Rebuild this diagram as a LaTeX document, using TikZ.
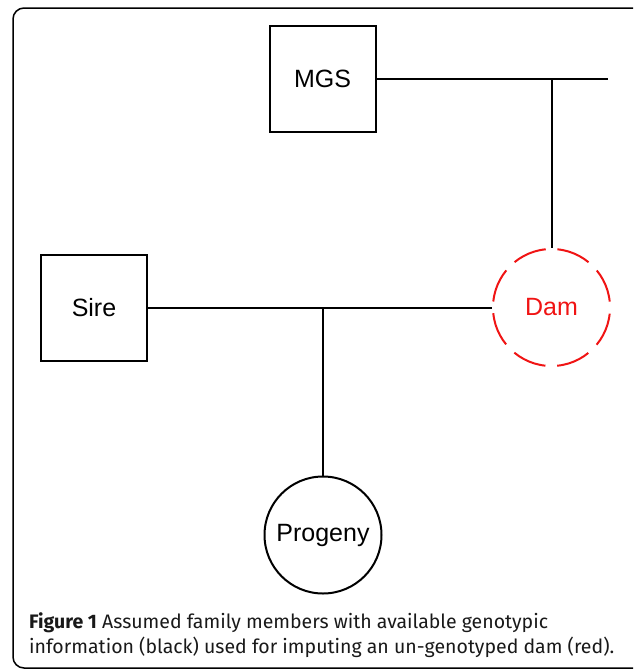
\documentclass[tikz,border=0pt]{standalone}
\usepackage{fontspec}
\usepackage{tikz}
\usetikzlibrary{shapes.geometric, positioning}
\newfontfamily\labfont{Liberation Sans}
\newfontfamily\capfont{Fira Sans}
\definecolor{damred}{RGB}{240,20,20}
\tikzstyle{male} = [rectangle,
minimum size=106pt,
inner sep=0pt,
draw=black,
line width=2pt,
font=\labfont\fontsize{25}{30}\selectfont]
\tikzstyle{female} = [circle,
minimum size=117pt,
inner sep=0pt,
draw=black,
line width=2pt,
font=\labfont\fontsize{25}{30}\selectfont]
\tikzstyle{missing} = [female, draw=damred, text=damred,
dash pattern=on 34.2pt off 11.7pt, dash phase=40.05pt]
\tikzstyle{link} = [line width=2pt]

\begin{document}
\begin{tikzpicture}[x=1pt,y=-1pt]
        \useasboundingbox (0,0) rectangle (633,670);
        \clip (0,0) rectangle (633,670);
        \draw [line width=1.5pt, rounded corners=11pt] (13,8) rectangle (645,668);
        \node (mgs) [male] at (322.5,79) {MGS};
        \node (sire) [male] at (94,307.5) {Sire};
        \node (dam) [missing] at (551.5,307.5) {Dam};
        \node (prog) [female] at (323,535) {Progeny};
        \coordinate (mgsend) at (608,79);
        \coordinate (mgsdrop) at (dam.north |- mgs.east);
        \coordinate (sirdrop) at (prog.north |- sire.east);
        \draw [link] (mgs.east) -- (mgsend);
        \draw [link] (mgsdrop) -- (dam.north);
        \draw [link] (sire.east) -- (dam.west);
        \draw [link] (sirdrop) -- (prog.north);
        \node (cap) [anchor=north west, align=left, inner sep=0pt, text=black!90,
            font=\capfont\fontsize{19.5}{25.5}\selectfont] at (29,612)
            {\textbf{Figure 1} Assumed family members with available genotypic\\
             information (black) used for imputing an un-genotyped dam (red).};
    \end{tikzpicture}
\end{document}
